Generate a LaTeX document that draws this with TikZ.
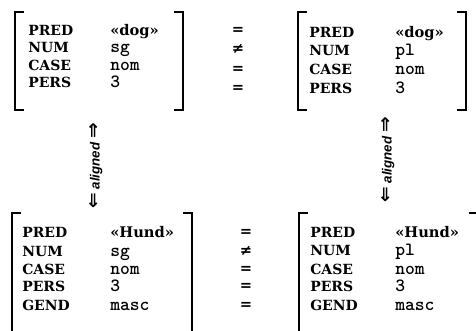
\documentclass[tikz,border=0pt]{standalone}
\usepackage{fontspec}
\newfontfamily\attrfont{DejaVu Serif}
\newfontfamily\valfont{lmmonolt10-bold}[Extension=.otf]
\newfontfamily\relfont{DejaVu Sans}
\newfontfamily\alignfont{Liberation Sans}

\begin{document}
\begin{tikzpicture}[x=0.75pt,y=-0.75pt,
    attr/.style={anchor=base west, inner sep=0pt, font=\attrfont\bfseries\fontsize{10.5}{12}\selectfont},
    val/.style={anchor=base west, inner sep=0pt, font=\valfont\fontsize{14}{15}\selectfont},
    guil/.style={anchor=base west, inner sep=0pt, font=\attrfont\bfseries\fontsize{11}{12}\selectfont},
    rel/.style={anchor=center, inner sep=0pt, font=\relfont\bfseries\fontsize{11}{12}\selectfont},
    brack/.style={line width=2pt, line cap=rect},
    alignlabel/.style={rotate=90, inner sep=0pt, font=\alignfont\bfseries\itshape\fontsize{10}{12}\selectfont}]
    \useasboundingbox (0,0) rectangle (476,331);

    % English, top left
    \draw[brack] (23,12) -- (15,12) -- (15,110) -- (23,110);
    \draw[brack] (175,12) -- (183,12) -- (183,110) -- (175,110);
    \node[attr] (en-pred) at (28,36) {PRED};
    \node[attr] (en-num) at (28,53) {NUM};
    \node[attr] (en-case) at (28,71) {CASE};
    \node[attr] (en-pers) at (28,88) {PERS};
    \node[guil] (en-pred-v) at (110,36) {«dog»};
    \node[val] (en-num-v) at (110,53) {sg};
    \node[val] (en-case-v) at (110,71) {nom};
    \node[val] (en-pers-v) at (110,88) {3};

    % relations, top
    \node[rel] (r1) at (238,31) {=};
    \node[rel] (r2) at (238,49) {≠};
    \node[rel] (r3) at (238,70) {=};
    \node[rel] (r4) at (238,89) {=};

    % English, top right
    \draw[brack] (306,12) -- (298,12) -- (298,110) -- (306,110);
    \draw[brack] (458,12) -- (466,12) -- (466,110) -- (458,110);
    \node[attr] (enp-pred) at (309,38) {PRED};
    \node[attr] (enp-num) at (309,56) {NUM};
    \node[attr] (enp-case) at (309,75) {CASE};
    \node[attr] (enp-pers) at (309,94) {PERS};
    \node[guil] (enp-pred-v) at (395,38) {«dog»};
    \node[val] (enp-num-v) at (395,56) {pl};
    \node[val] (enp-case-v) at (395,75) {nom};
    \node[val] (enp-pers-v) at (395,94) {3};

    % German, bottom left
    \draw[brack] (20,213) -- (12,213) -- (12,345);
    \draw[brack] (184,213) -- (192,213) -- (192,345);
    \node[attr] (de-pred) at (22,238) {PRED};
    \node[attr] (de-num) at (22,257) {NUM};
    \node[attr] (de-case) at (22,275) {CASE};
    \node[attr] (de-pers) at (22,292) {PERS};
    \node[attr] (de-gend) at (22,311) {GEND};
    \node[guil] (de-pred-v) at (110,238) {«Hund»};
    \node[val] (de-num-v) at (110,257) {sg};
    \node[val] (de-case-v) at (110,275) {nom};
    \node[val] (de-pers-v) at (110,292) {3};
    \node[val] (de-gend-v) at (110,311) {masc};

    % relations, bottom
    \node[rel] (s1) at (246,233) {=};
    \node[rel] (s2) at (246,251) {≠};
    \node[rel] (s3) at (246,270) {=};
    \node[rel] (s4) at (246,287) {=};
    \node[rel] (s5) at (246,306) {=};

    % German, bottom right
    \draw[brack] (307,213) -- (299,213) -- (299,345);
    \draw[brack] (470,213) -- (478,213) -- (478,345);
    \node[attr] (dep-pred) at (310,238) {PRED};
    \node[attr] (dep-num) at (310,256) {NUM};
    \node[attr] (dep-case) at (310,275) {CASE};
    \node[attr] (dep-pers) at (310,292) {PERS};
    \node[attr] (dep-gend) at (310,311) {GEND};
    \node[guil] (dep-pred-v) at (395,238) {«Hund»};
    \node[val] (dep-num-v) at (395,256) {pl};
    \node[val] (dep-case-v) at (395,275) {nom};
    \node[val] (dep-pers-v) at (395,292) {3};
    \node[val] (dep-gend-v) at (395,311) {masc};

    % alignment labels
    \node[alignlabel] (al-sg) at (96,166) {{\relfont\fontsize{14}{14}\selectfont ⇐} aligned {\relfont\fontsize{14}{14}\selectfont ⇒}};
    \node[alignlabel] (al-pl) at (388,160) {{\relfont\fontsize{14}{14}\selectfont ⇐} aligned {\relfont\fontsize{14}{14}\selectfont ⇒}};
\end{tikzpicture}
\end{document}
